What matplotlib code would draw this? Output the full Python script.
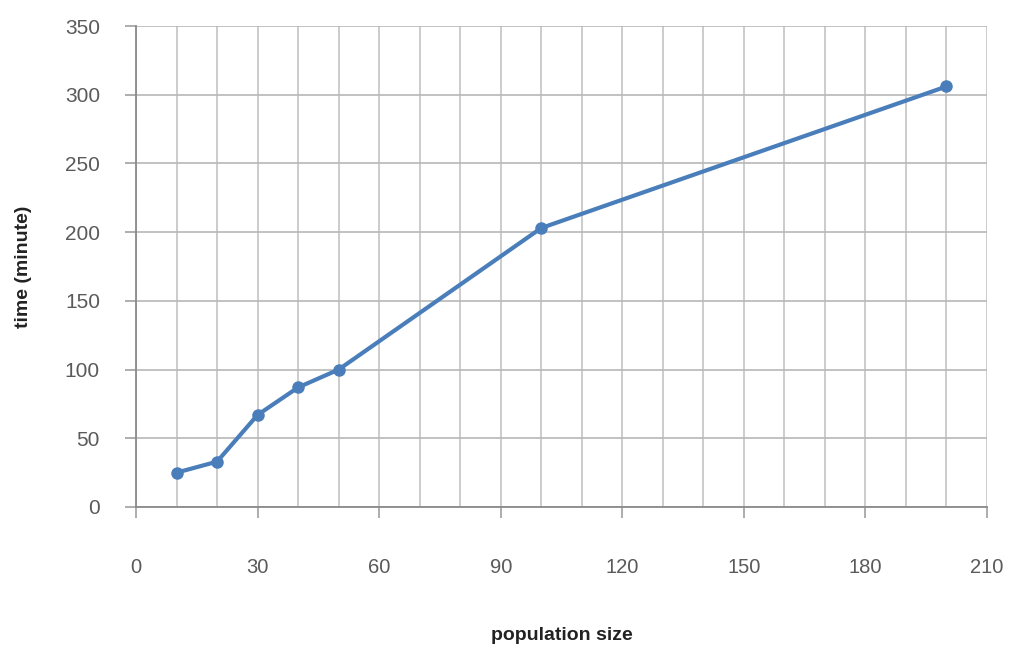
import matplotlib
matplotlib.use("Agg")
import matplotlib.pyplot as plt
from matplotlib.ticker import MultipleLocator

population = [10, 20, 30, 40, 50, 100, 200]
time_min = [25, 33, 67, 87, 100, 203, 306]

x_ticks = [0, 30, 60, 90, 120, 150, 180, 210]
y_ticks = [0, 50, 100, 150, 200, 250, 300, 350]

plt.rcParams['font.family'] = ['Liberation Sans', 'DejaVu Sans']

fig = plt.figure(figsize=(10.18, 6.48), dpi=100)
ax = fig.add_axes([136/1018, 1-507/648, (987-136)/1018, (507-26)/648])

ax.plot(population, time_min, color='#4a7ebb', lw=3, marker='o', ms=8,
        mfc='#4a7ebb', mec='#4a7ebb', zorder=3, clip_on=False)

ax.set_xlim(0, 210)
ax.set_ylim(0, 350)
ax.set_xticks(x_ticks)
ax.set_yticks(y_ticks)
ax.xaxis.set_minor_locator(MultipleLocator(10))

ax.grid(which='major', axis='y', color='#b8b8b8', lw=1.2)
ax.grid(which='both', axis='x', color='#c4c4c4', lw=1.2)

for s in ['top', 'right']:
    ax.spines[s].set_visible(False)
for s in ['left', 'bottom']:
    ax.spines[s].set_color('#8a8a8a')
    ax.spines[s].set_linewidth(1.3)

ax.tick_params(axis='y', which='major', length=8, width=1.2, color='#a0a0a0',
               labelsize=15, labelcolor='#5a5a5a', pad=18)
ax.tick_params(axis='x', which='major', length=8, width=1.2, color='#a0a0a0',
               labelsize=14.5, labelcolor='#5a5a5a', pad=29)
ax.tick_params(axis='x', which='minor', length=0)

ax.set_xlabel('population size', fontsize=14, fontweight='bold', color='#222222')
ax.xaxis.set_label_coords(0.5, -120/481)
ax.set_ylabel('time (minute)', fontsize=14, fontweight='bold', color='#222222')
ax.yaxis.set_label_coords(-104/851, 0.5)

fig.savefig('out.png', dpi=100, facecolor='white')
